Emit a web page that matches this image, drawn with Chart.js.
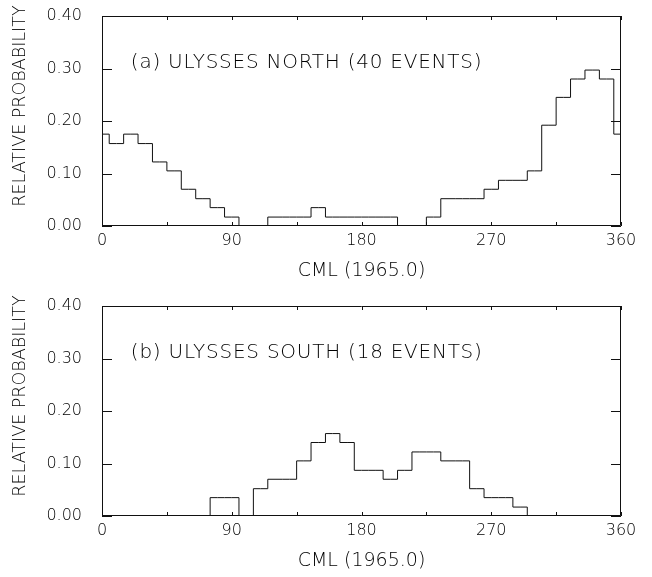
<!DOCTYPE html>
<html>
<head>
<meta charset="utf-8">
<script src="https://cdn.jsdelivr.net/npm/chart.js@4.4.1/dist/chart.umd.min.js"></script>
<style>
  html, body { margin: 0; padding: 0; background: #fff; }
  #wrap { position: relative; width: 652px; height: 577px; overflow: hidden; }
  canvas { position: absolute; left: 0; }
</style>
</head>
<body>
<div id="wrap">
  <canvas id="north" width="652" height="290" style="top:0"></canvas>
  <canvas id="south" width="652" height="287" style="top:290px"></canvas>
</div>
<script>
"use strict";

// CML bin centres (deg), 10 deg bins
const cml = [0, 10, 20, 30, 40, 50, 60, 70, 80, 90, 100, 110, 120, 130, 140, 150, 160, 170, 180,
             190, 200, 210, 220, 230, 240, 250, 260, 270, 280, 290, 300, 310, 320, 330, 340, 350, 360];

// relative probability
const northProb = [0.175, 0.157, 0.175, 0.157, 0.122, 0.105, 0.070, 0.052, 0.035, 0.017,
                   0, 0, 0.017, 0.017, 0.017, 0.035, 0.017, 0.017, 0.017, 0.017,
                   0.017, 0, 0, 0.017, 0.052, 0.052, 0.052, 0.070, 0.087, 0.087,
                   0.105, 0.192, 0.245, 0.280, 0.297, 0.280, 0.175];

const southProb = [0, 0, 0, 0, 0, 0, 0, 0, 0.035, 0.035,
                   0, 0.052, 0.070, 0.070, 0.105, 0.140, 0.157, 0.140, 0.087, 0.087,
                   0.070, 0.087, 0.122, 0.122, 0.105, 0.105, 0.052, 0.035, 0.035, 0.017,
                   0, 0, 0, 0, 0, 0, 0];

const xTickStep = 45;
const xLabelStep = 90;
const yTickStep = 0.1;
const yMax = 0.4;

const FONT = "'DejaVu Sans', 'Liberation Sans', sans-serif";
const WEIGHT = "200";
const INK = "#111";
const TEXT = "#000";

// box, inward ticks and the text inside / beside each panel
const frame = {
    id: "frame",
    afterDatasetsDraw(chart, args, opts) {
        const ctx = chart.ctx;
        const a = chart.chartArea;
        const xs = chart.scales.x;
        const ys = chart.scales.y;
        ctx.save();
        ctx.strokeStyle = INK;
        ctx.lineWidth = 1;
        ctx.beginPath();
        ctx.rect(a.left + 0.5, a.top + 0.5, a.right - a.left - 1, a.bottom - a.top - 1);
        xs.ticks.forEach(function (t) {
            const px = Math.round(xs.getPixelForValue(t.value)) + 0.5;
            ctx.moveTo(px, a.bottom);
            ctx.lineTo(px, a.bottom - 4);
            ctx.moveTo(px, a.top);
            ctx.lineTo(px, a.top + 4);
        });
        ys.ticks.forEach(function (t) {
            const py = Math.round(ys.getPixelForValue(t.value)) + 0.5;
            ctx.moveTo(a.left, py);
            ctx.lineTo(a.left + 10, py);
            ctx.moveTo(a.right, py);
            ctx.lineTo(a.right - 10, py);
        });
        ctx.stroke();

        ctx.fillStyle = TEXT;
        ctx.textBaseline = "middle";

        ctx.font = WEIGHT + " 20px " + FONT;
        ctx.letterSpacing = "0.75px";
        ctx.textAlign = "left";
        ctx.fillText(opts.label, xs.getPixelForValue(20), ys.getPixelForValue(0.31));

        ctx.font = WEIGHT + " 19px " + FONT;
        ctx.letterSpacing = "0px";
        ctx.textAlign = "center";
        ctx.fillText("CML (1965.0)", (a.left + a.right) / 2, a.bottom + 45);

        ctx.translate(20, (a.top + a.bottom) / 2 - 15);
        ctx.rotate(-Math.PI / 2);
        ctx.font = WEIGHT + " 17.5px " + FONT;
        ctx.fillText("RELATIVE PROBABILITY", 0, 0);
        ctx.restore();
    }
};

function makePanel(id, values, label) {
    const canvas = document.getElementById(id);
    const h = canvas.height;
    return new Chart(canvas, {
        type: "line",
        data: {
            datasets: [{
                data: cml.map(function (c, i) { return { x: c, y: values[i] }; }),
                stepped: "middle",
                borderColor: INK,
                borderWidth: 1,
                pointRadius: 0,
                fill: false
            }]
        },
        options: {
            responsive: false,
            animation: false,
            devicePixelRatio: 1,
            layout: { padding: { left: 0, top: 16, right: 31, bottom: 0 } },
            plugins: {
                legend: { display: false },
                tooltip: { enabled: false },
                frame: { label: label }
            },
            scales: {
                x: {
                    type: "linear",
                    min: 0,
                    max: 360,
                    grid: { display: false, drawTicks: false },
                    border: { display: false },
                    afterFit: function (s) { s.height = h - 226; },
                    ticks: {
                        stepSize: xTickStep,
                        autoSkip: false,
                        maxRotation: 0,
                        padding: 5,
                        color: TEXT,
                        font: { family: FONT, size: 16, weight: WEIGHT },
                        callback: function (v) { return v % xLabelStep === 0 ? String(v) : ""; }
                    }
                },
                y: {
                    min: 0,
                    max: yMax,
                    grid: { display: false, drawTicks: false },
                    border: { display: false },
                    afterFit: function (s) {
                        s.width = 102;
                        s.paddingTop = 0;
                        s.paddingBottom = 0;
                    },
                    ticks: {
                        stepSize: yTickStep,
                        padding: 20,
                        color: TEXT,
                        font: { family: FONT, size: 16, weight: WEIGHT },
                        callback: function (v) { return v.toFixed(2); }
                    }
                }
            }
        },
        plugins: [frame]
    });
}

makePanel("north", northProb, "(a) ULYSSES NORTH (40 EVENTS)");
makePanel("south", southProb, "(b) ULYSSES SOUTH (18 EVENTS)");
</script>
</body>
</html>
